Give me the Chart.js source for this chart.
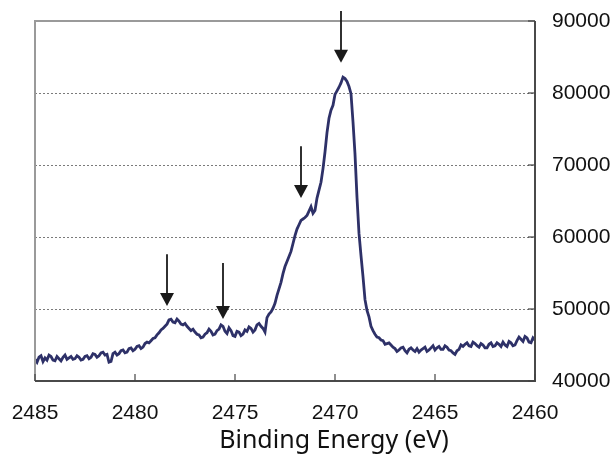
<!DOCTYPE html>
<html>
<head>
<meta charset="utf-8">
<script src="https://cdn.jsdelivr.net/npm/chart.js@4/dist/chart.umd.min.js"></script>
<style>
  html, body { margin: 0; padding: 0; background: #fff; overflow: hidden; }
  #wrap { width: 615px; height: 454px; }
</style>
</head>
<body>
<div id="wrap"><canvas id="chart"></canvas></div>
<script>
// Binding energy grid, 2485 -> 2460 eV in 0.1 eV steps
const startEnergy = 2485;
const stepEnergy = 0.1;

// Intensity, one value per 0.1 eV (one row = 1 eV)
const counts = [
    43000, 42600, 43300, 43500, 42700, 43200, 42900, 43600, 43400, 42900,
    42800, 43400, 43100, 42800, 43300, 43600, 43000, 43200, 43400, 43000,
    43100, 43500, 43300, 42900, 43000, 43400, 43500, 43100, 43300, 43800,
    43700, 43300, 43500, 43900, 44000, 43600, 43700, 42600, 42700, 43800,
    44000, 43600, 43800, 44200, 44300, 43900, 44000, 44500, 44600, 44200,
    44400, 44800, 44900, 44500, 44700, 45200, 45400, 45300, 45600, 45900,
    46000, 46400, 46700, 47100, 47300, 47600, 47900, 48500, 48600, 48200,
    48100, 48600, 48300, 47900, 47800, 48000, 47600, 47300, 47000, 47200,
    46800, 46500, 46400, 46000, 46100, 46500, 46700, 47200, 46900, 46400,
    46500, 47000, 47200, 47800, 47600, 46900, 46600, 47400, 47000, 46300,
    46200, 46900, 46800, 46300, 46500, 47100, 46900, 47500, 47300, 46800,
    47100, 47800, 48000, 47600, 47300, 46800, 48800, 49300, 49600, 50100,
    50800, 51900, 52800, 53700, 54900, 55900, 56600, 57300, 58000, 59100,
    60200, 61100, 61700, 62300, 62500, 62700, 63000, 63600, 64200, 63300,
    63700, 65400, 66500, 67600, 69500, 71800, 74500, 76500, 77600, 78300,
    79800, 80300, 80800, 81400, 82200, 82000, 81600, 80900, 79900, 76000,
    71500, 65500, 60500, 57400, 54500, 51300, 49800, 48900, 47600, 47000,
    46500, 46100, 46000, 45700, 45600, 45100, 45200, 45300, 45000, 44700,
    44500, 44100, 44300, 44600, 44700, 44200, 43900, 44400, 44600, 44300,
    44100, 44500, 44000, 44300, 44500, 44700, 44100, 44300, 44600, 44900,
    44300, 44600, 44800, 44400, 44400, 44900, 44700, 44300, 44200, 43900,
    43700, 44200, 44400, 45000, 44800, 45100, 45300, 44900, 44800, 45400,
    45200, 44900, 44700, 45200, 45000, 44600, 44600, 45100, 45300, 44800,
    44900, 45300, 45100, 44800, 45400, 45000, 44800, 45500, 45300, 44900,
    45000, 45600, 46100, 45800, 45500, 46200, 46000, 45400, 45300, 46000,
    45700
];

const xTicks = [2485, 2480, 2475, 2470, 2465, 2460];
const yTicks = [40000, 50000, 60000, 70000, 80000, 90000];
const xTitle = "Binding Energy (eV)";

// Arrows marking the features: energy, shaft top, tip
const arrowEnergies = [2478.4, 2475.6, 2471.7, 2469.7];
const arrowTops = [57600, 56400, 72600, 91400];
const arrowTips = [50400, 48600, 65400, 84200];

const points = counts.map((v, i) => ({ x: +(startEnergy - i * stepEnergy).toFixed(1), y: v }));

const framePlugin = {
    id: "frame",
    beforeDatasetsDraw(chart) {
        const { ctx, chartArea: a, scales } = chart;
        ctx.save();
        ctx.strokeStyle = "#7a7a7a";
        ctx.lineWidth = 1;
        ctx.setLineDash([2, 2]);
        yTicks.slice(1, -1).forEach((v) => {
            const y = Math.round(scales.y.getPixelForValue(v)) + 0.5;
            ctx.beginPath();
            ctx.moveTo(a.left, y);
            ctx.lineTo(a.right, y);
            ctx.stroke();
        });
        ctx.restore();
    },
    afterDatasetsDraw(chart) {
        const { ctx, chartArea: a, scales } = chart;
        ctx.save();
        // frame
        ctx.lineWidth = 2;
        ctx.strokeStyle = "#9a9a9a";
        ctx.beginPath();
        ctx.moveTo(a.left, a.bottom);
        ctx.lineTo(a.left, a.top);
        ctx.lineTo(a.right, a.top);
        ctx.stroke();
        ctx.strokeStyle = "#4a4a4a";
        ctx.beginPath();
        ctx.moveTo(a.right, a.top);
        ctx.lineTo(a.right, a.bottom);
        ctx.lineTo(a.left, a.bottom);
        ctx.stroke();

        // inward tick marks
        ctx.lineWidth = 1.2;
        ctx.strokeStyle = "#444";
        xTicks.forEach((v) => {
            const x = scales.x.getPixelForValue(v);
            ctx.beginPath();
            ctx.moveTo(x, a.bottom);
            ctx.lineTo(x, a.bottom - 7);
            ctx.stroke();
        });
        yTicks.forEach((v) => {
            const y = scales.y.getPixelForValue(v);
            ctx.beginPath();
            ctx.moveTo(a.right, y);
            ctx.lineTo(a.right - 7, y);
            ctx.stroke();
        });

        // arrows
        ctx.strokeStyle = "#1a1a1a";
        ctx.fillStyle = "#1a1a1a";
        ctx.lineWidth = 1.8;
        arrowEnergies.forEach((e, i) => {
            const x = scales.x.getPixelForValue(e);
            const yTop = scales.y.getPixelForValue(arrowTops[i]);
            const yTip = scales.y.getPixelForValue(arrowTips[i]);
            ctx.beginPath();
            ctx.moveTo(x, yTop);
            ctx.lineTo(x, yTip - 10);
            ctx.stroke();
            ctx.beginPath();
            ctx.moveTo(x - 7, yTip - 13);
            ctx.lineTo(x + 7, yTip - 13);
            ctx.lineTo(x, yTip);
            ctx.closePath();
            ctx.fill();
        });

        // axis title (sits right of the plot centre in the original)
        ctx.fillStyle = "#111";
        ctx.font = "25px 'Noto Sans', 'Liberation Sans', sans-serif";
        ctx.textAlign = "center";
        ctx.textBaseline = "middle";
        ctx.fillText(xTitle, 334, 441);
        ctx.restore();
    }
};

new Chart(document.getElementById("chart"), {
    type: "line",
    data: {
        datasets: [{
            data: points,
            borderColor: "#2e3168",
            borderWidth: 2.8,
            pointRadius: 0,
            tension: 0,
            fill: false
        }]
    },
    options: {
        responsive: true,
        maintainAspectRatio: false,
        animation: false,
        events: [],
        layout: { padding: { left: 35, top: 21, right: 0, bottom: 0 } },
        plugins: { legend: { display: false }, tooltip: { enabled: false } },
        scales: {
            x: {
                type: "linear",
                reverse: true,
                min: 2460,
                max: 2485,
                afterBuildTicks: (s) => { s.ticks = xTicks.map((v) => ({ value: v })); },
                afterFit: (s) => { s.height = 73; s.paddingLeft = 0; s.paddingRight = 0; },
                grid: { display: false, drawTicks: false },
                border: { display: false },
                ticks: {
                    color: "#111",
                    font: { family: "Liberation Sans, Arial, sans-serif", size: 21 },
                    padding: 20,
                    maxRotation: 0,
                    callback: (v) => String(v)
                }
            },
            y: {
                position: "right",
                min: 40000,
                max: 90000,
                afterBuildTicks: (s) => { s.ticks = yTicks.map((v) => ({ value: v })); },
                afterFit: (s) => { s.width = 80; s.paddingTop = 0; s.paddingBottom = 0; },
                grid: { display: false, drawTicks: false },
                border: { display: false },
                ticks: {
                    color: "#111",
                    font: { family: "Liberation Sans, Arial, sans-serif", size: 21 },
                    padding: 17,
                    callback: (v) => String(v)
                }
            }
        }
    },
    plugins: [framePlugin]
});
</script>
</body>
</html>
